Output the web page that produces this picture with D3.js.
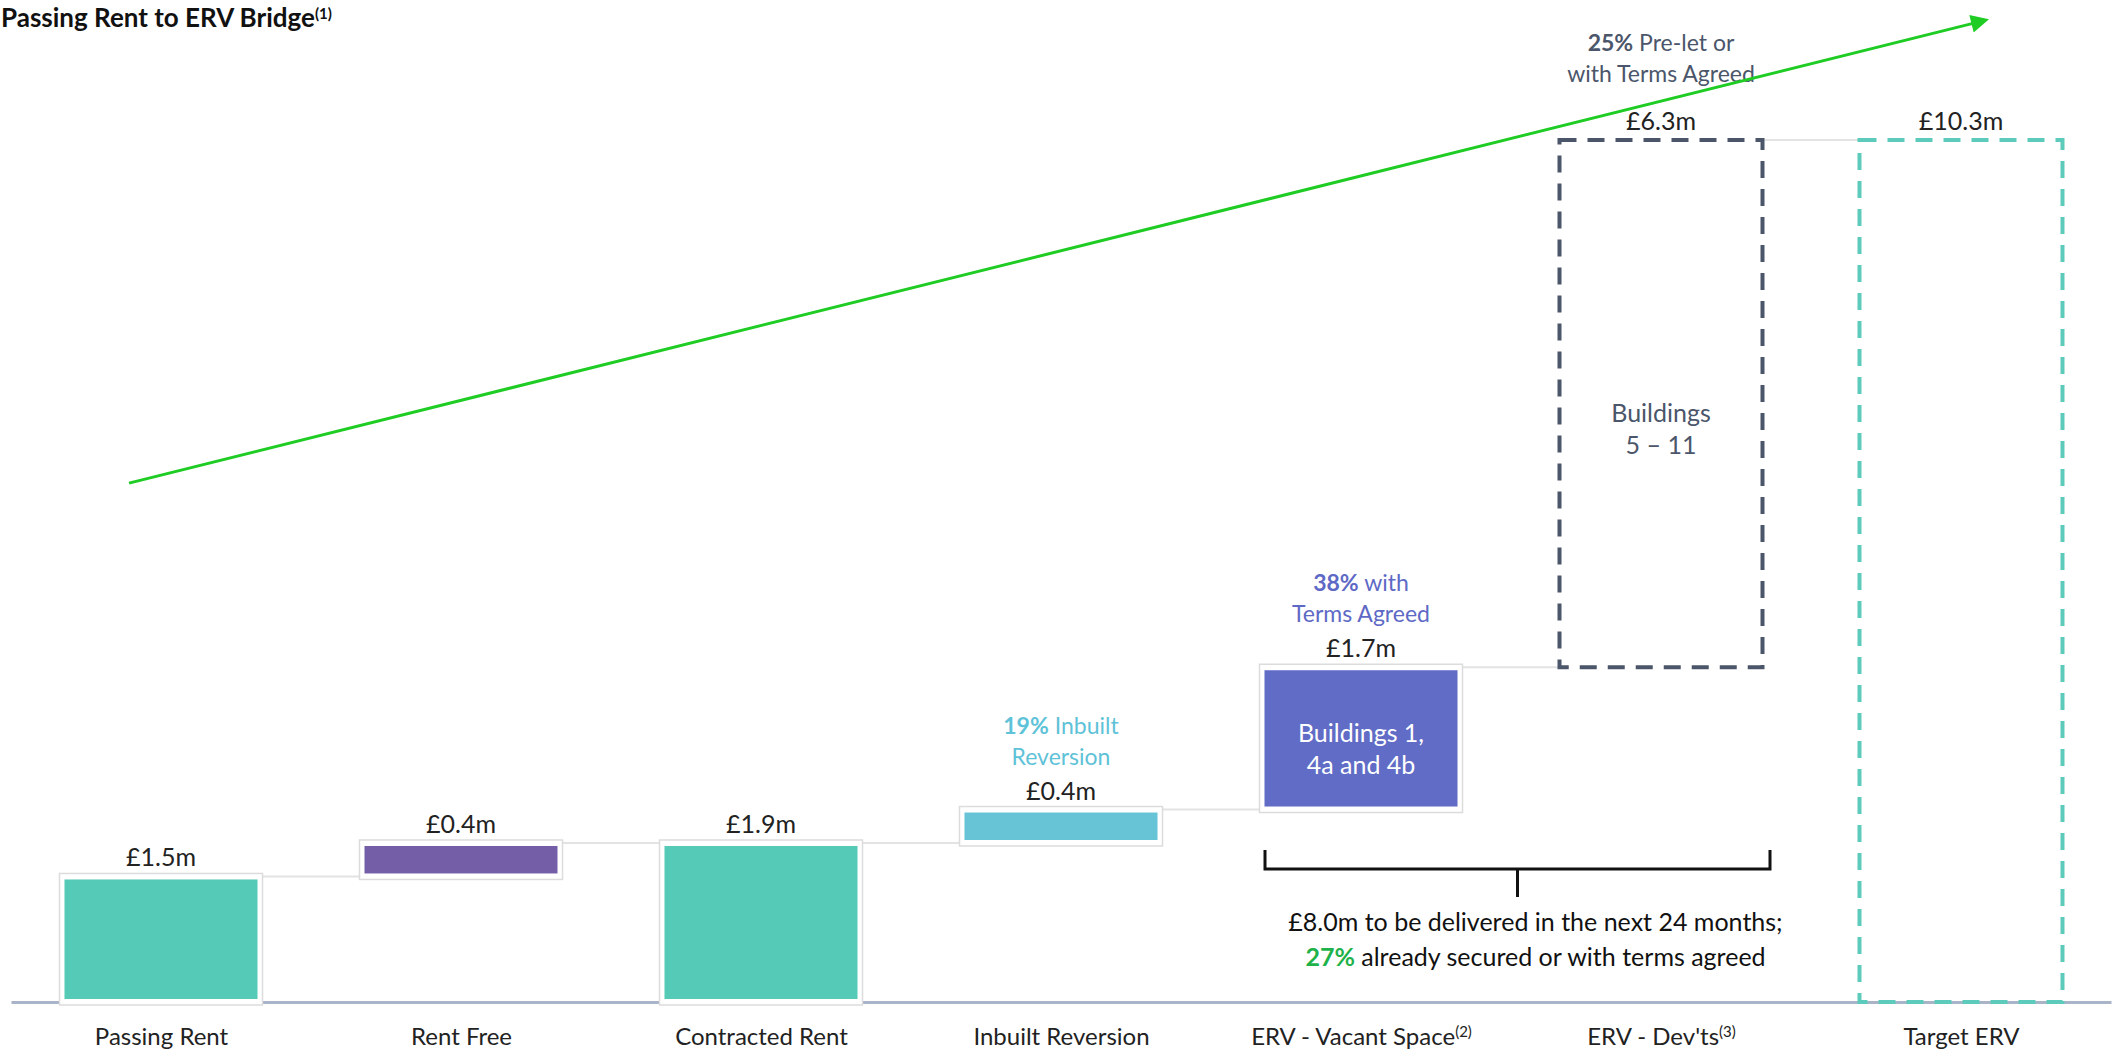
<!DOCTYPE html>
<html>
<head>
<meta charset="utf-8">
<script src="https://cdn.jsdelivr.net/npm/d3@7"></script>
<style>
  body { margin: 0; background: #fff; }
  svg { display: block; font-family: Lato, "Open Sans", sans-serif; }
</style>
</head>
<body>
<div id="chart"></div>
<script>
// data
const categories = ["Passing Rent", "Rent Free", "Contracted Rent", "Inbuilt Reversion", "ERV - Vacant Space", "ERV - Dev'ts", "Target ERV"];
const footnotes = ["", "", "", "", "(2)", "(3)", ""];
const values = [1.5, 0.4, 1.9, 0.4, 1.7, 6.3, 10.3];
const kinds = ["total", "step", "total", "step", "step", "step", "total"];
const valueLabels = ["£1.5m", "£0.4m", "£1.9m", "£0.4m", "£1.7m", "£6.3m", "£10.3m"];
const barNotes = [null, null, null, ["19%", " Inbuilt", "Reversion"], ["38%", " with", "Terms Agreed"], ["25%", " Pre-let or", "with Terms Agreed"], null];
const insideText = [null, null, null, null, ["Buildings 1,", "4a and 4b"], ["Buildings", "5 – 11"], null];

// styles
const fills = ["#54cab7", "#745ea8", "#54cab7", "#67c4d7", "#606cc5", null, null];
const dashColors = [null, null, null, null, null, "#4b566a", "#5dcbbb"];
const noteColors = [null, null, null, "#5ec2d8", "#5e69c6", "#4b566a", null];
const insideColors = [null, null, null, null, "#ffffff", "#4b566a", null];

let width = 2126, height = 1053;

const svg = d3.select("#chart")
  .append("svg")
  .attr("width", width)
  .attr("height", height)
  .attr("viewBox", [0, 0, width, height]);

// running totals for the bridge
let run = 0;
const bars = categories.map((c, i) => {
  let lo, hi;
  if (kinds[i] == "total") { lo = 0; hi = values[i]; }
  else { lo = run; hi = run + values[i]; }
  run = hi;
  return { cat: c, i, lo, hi };
});

let x = d3.scalePoint()
  .domain(categories)
  .range([11, 2111])
  .padding(0.5);

let y = d3.scaleLinear()
  .domain([0, 10.3])
  .range([1002, 140]);

const barW = 203;

// connectors
svg.append("g")
  .selectAll("line")
  .data(bars.slice(0, -1))
  .join("line")
  .attr("x1", d => x(d.cat) + barW / 2)
  .attr("x2", d => x(categories[d.i + 1]) - barW / 2)
  .attr("y1", d => y(d.hi))
  .attr("y2", d => y(d.hi))
  .attr("stroke", "#e3e3e3")
  .attr("stroke-width", 2);

// x axis
const axis = svg.append("g")
  .attr("transform", `translate(0,${y(0)})`)
  .call(d3.axisBottom(x).tickSize(0).tickPadding(26));
axis.select(".domain").attr("stroke", "#a9b4c8").attr("stroke-width", 3);
axis.selectAll(".tick text")
  .attr("font-size", 24)
  .attr("font-family", "Lato, sans-serif")
  .attr("fill", "#222")
  .each(function(d, i) {
    if (footnotes[i]) {
      d3.select(this).append("tspan")
        .attr("font-size", 15)
        .attr("dy", -8)
        .text(footnotes[i]);
    }
  });

// solid bars
const solid = bars.filter(d => fills[d.i]);
svg.append("g")
  .selectAll("rect")
  .data(solid)
  .join("rect")
  .attr("x", d => x(d.cat) - barW / 2)
  .attr("y", d => y(d.hi) - 3)
  .attr("width", barW)
  .attr("height", d => y(d.lo) - y(d.hi) + 6)
  .attr("fill", "#fff")
  .attr("stroke", "#dcdcdc")
  .attr("stroke-width", 1.5);

svg.append("g")
  .selectAll("rect")
  .data(solid)
  .join("rect")
  .attr("x", d => x(d.cat) - barW / 2 + 5)
  .attr("y", d => y(d.hi) + 3)
  .attr("width", barW - 10)
  .attr("height", d => y(d.lo) - y(d.hi) - 6)
  .attr("fill", d => fills[d.i]);

// dashed bars
svg.append("g")
  .selectAll("rect")
  .data(bars.filter(d => dashColors[d.i]))
  .join("rect")
  .attr("x", d => x(d.cat) - barW / 2)
  .attr("y", d => y(d.hi))
  .attr("width", barW)
  .attr("height", d => y(d.lo) - y(d.hi))
  .attr("fill", "none")
  .attr("stroke", d => dashColors[d.i])
  .attr("stroke-width", 4)
  .attr("stroke-dasharray", "17,11");

// value labels
svg.append("g")
  .selectAll("text")
  .data(bars)
  .join("text")
  .attr("x", d => x(d.cat))
  .attr("y", d => y(d.hi) - 10)
  .attr("text-anchor", "middle")
  .attr("font-size", 25)
  .attr("fill", "#222")
  .text(d => valueLabels[d.i]);

// notes above bars
const noteOffset = [0, 0, 0, 45, 45, 58, 0];
const notes = svg.append("g")
  .selectAll("text")
  .data(bars.filter(d => barNotes[d.i]))
  .join("text")
  .attr("text-anchor", "middle")
  .attr("font-size", 23)
  .attr("fill", d => noteColors[d.i]);
notes.append("tspan")
  .attr("x", d => x(d.cat))
  .attr("y", d => y(d.hi) - noteOffset[d.i] - 31)
  .attr("font-weight", "bold")
  .text(d => barNotes[d.i][0]);
notes.append("tspan")
  .text(d => barNotes[d.i][1]);
notes.append("tspan")
  .attr("x", d => x(d.cat))
  .attr("y", d => y(d.hi) - noteOffset[d.i])
  .text(d => barNotes[d.i][2]);

// text inside bars
const insideShift = [0, 0, 0, 0, 10, 24, 0];
const inside = svg.append("g")
  .selectAll("text")
  .data(bars.filter(d => insideText[d.i]))
  .join("text")
  .attr("text-anchor", "middle")
  .attr("font-size", 25)
  .attr("fill", d => insideColors[d.i]);
inside.append("tspan")
  .attr("x", d => x(d.cat))
  .attr("y", d => (y(d.hi) + y(d.lo)) / 2 + insideShift[d.i] - 6)
  .text(d => insideText[d.i][0]);
inside.append("tspan")
  .attr("x", d => x(d.cat))
  .attr("y", d => (y(d.hi) + y(d.lo)) / 2 + insideShift[d.i] + 26)
  .text(d => insideText[d.i][1]);

// bracket under the two ERV bars
const bx0 = x("ERV - Vacant Space") - 96,
      bx1 = x("ERV - Dev'ts") + 109,
      bmid = (bx0 + bx1) / 2;
svg.append("path")
  .attr("d", `M${bx0},850V869H${bx1}V850M${bmid},869V897`)
  .attr("fill", "none")
  .attr("stroke", "#111")
  .attr("stroke-width", 3);

const bt = svg.append("text")
  .attr("text-anchor", "middle")
  .attr("font-size", 25)
  .attr("fill", "#111");
bt.append("tspan").attr("x", bmid + 18).attr("y", 931)
  .text("£8.0m to be delivered in the next 24 months;");
bt.append("tspan").attr("x", bmid + 18).attr("y", 966)
  .attr("font-weight", "bold").attr("fill", "#1fb24a").text("27%");
bt.append("tspan").text(" already secured or with terms agreed");

// growth arrow
svg.append("defs").append("marker")
  .attr("id", "head")
  .attr("viewBox", "0 0 10 10")
  .attr("refX", 2)
  .attr("refY", 5)
  .attr("markerWidth", 7)
  .attr("markerHeight", 6)
  .attr("orient", "auto")
  .append("path")
  .attr("d", "M0,0L10,5L0,10Z")
  .attr("fill", "#1fcc24");

svg.append("line")
  .attr("x1", x("Passing Rent") - 32)
  .attr("y1", y(6.2))
  .attr("x2", x("Target ERV") + 14)
  .attr("y2", y(11.7))
  .attr("stroke", "#1fcc24")
  .attr("stroke-width", 3)
  .attr("marker-end", "url(#head)");

// title
const title = svg.append("text")
  .attr("x", 1)
  .attr("y", 27)
  .attr("font-size", 26)
  .attr("font-weight", "bold")
  .attr("fill", "#111");
title.append("tspan").text("Passing Rent to ERV Bridge");
title.append("tspan").attr("font-size", 15).attr("dy", -8).text("(1)");
</script>
</body>
</html>
